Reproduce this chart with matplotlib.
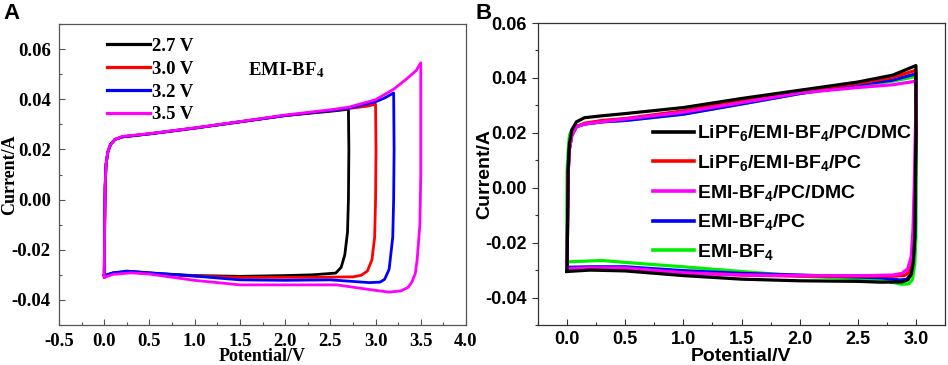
import matplotlib

matplotlib.use("Agg")
import matplotlib.pyplot as plt
from matplotlib.ticker import MultipleLocator
from matplotlib.lines import Line2D

plt.rcParams["mathtext.fontset"] = "custom"
plt.rcParams["mathtext.rm"] = "Liberation Sans:bold"
plt.rcParams["mathtext.bf"] = "Liberation Sans:bold"
plt.rcParams["mathtext.it"] = "Liberation Sans:bold"

# ---- Panel A: EMI-BF4 at different voltage windows (loop: forward then reverse) ----
a_labels = ["2.7 V", "3.0 V", "3.2 V", "3.5 V"]
a_colors = ["#000000", "#ff0000", "#0000ff", "#ff00ff"]

a_27_v = [0.0, 0.005, 0.01, 0.02, 0.04, 0.07, 0.12, 0.2, 0.5, 1.0, 1.5, 2.0, 2.5, 2.7,
          2.705, 2.70, 2.69, 2.66, 2.62, 2.56, 2.3, 2.0, 1.5, 1.0, 0.6, 0.3, 0.1, 0.0]
a_27_i = [-0.030, -0.010, 0.005, 0.014, 0.019, 0.022, 0.024, 0.025, 0.0262, 0.0285, 0.031, 0.0335, 0.0352, 0.0360,
          0.020, 0.0, -0.013, -0.022, -0.027, -0.0293, -0.0300, -0.0303, -0.0306, -0.0303, -0.0295, -0.0287, -0.0292, -0.0305]

a_30_v = [0.0, 0.005, 0.01, 0.02, 0.04, 0.07, 0.12, 0.2, 0.5, 1.0, 1.5, 2.0, 2.5, 2.7, 2.9, 3.0,
          3.005, 3.0, 2.99, 2.96, 2.91, 2.84, 2.75, 2.3, 2.0, 1.5, 1.0, 0.5, 0.3, 0.1, 0.0]
a_30_i = [-0.030, -0.010, 0.005, 0.014, 0.019, 0.022, 0.024, 0.025, 0.0262, 0.0285, 0.031, 0.0335, 0.0355, 0.0363, 0.0372, 0.0380,
          0.020, 0.0, -0.015, -0.024, -0.0285, -0.0302, -0.0308, -0.0310, -0.0310, -0.0310, -0.0305, -0.0295, -0.0290, -0.0293, -0.0305]

a_32_v = [0.0, 0.005, 0.01, 0.02, 0.04, 0.07, 0.12, 0.2, 0.5, 1.0, 1.5, 2.0, 2.5, 2.7, 3.0, 3.1, 3.2,
          3.205, 3.2, 3.19, 3.15, 3.1, 3.05, 2.93, 2.5, 2.0, 1.5, 1.0, 0.5, 0.25, 0.1, 0.0]
a_32_i = [-0.030, -0.010, 0.005, 0.014, 0.019, 0.022, 0.024, 0.025, 0.0262, 0.0285, 0.031, 0.0335, 0.0355, 0.0364, 0.0390, 0.0405, 0.0425,
          0.020, 0.0, -0.015, -0.0278, -0.0318, -0.0329, -0.0331, -0.0320, -0.0322, -0.0320, -0.0305, -0.0292, -0.0285, -0.0292, -0.0302]

a_35_v = [0.0, 0.005, 0.01, 0.02, 0.04, 0.07, 0.12, 0.2, 0.5, 1.0, 1.5, 2.0, 2.5, 2.7, 3.0, 3.2, 3.35, 3.45, 3.5,
          3.5, 3.49, 3.46, 3.44, 3.40, 3.36, 3.28, 3.15, 3.0, 2.57, 2.0, 1.5, 1.0, 0.5, 0.3, 0.1, 0.0]
a_35_i = [-0.031, -0.010, 0.005, 0.014, 0.019, 0.022, 0.024, 0.0252, 0.0263, 0.0286, 0.0311, 0.0337, 0.0358, 0.0368, 0.0398, 0.0440, 0.0483, 0.0515, 0.0545,
          0.010, -0.010, -0.024, -0.0294, -0.0330, -0.0350, -0.0364, -0.0369, -0.0362, -0.0340, -0.0340, -0.0340, -0.0322, -0.0297, -0.0292, -0.0298, -0.0310]

a_v = [a_27_v, a_30_v, a_32_v, a_35_v]
a_i = [a_27_i, a_30_i, a_32_i, a_35_i]

# ---- Panel B: different electrolytes, 0-3.0 V ----
b_labels = ["LiPF$_6$/EMI-BF$_4$/PC/DMC", "LiPF$_6$/EMI-BF$_4$/PC", "EMI-BF$_4$/PC/DMC",
            "EMI-BF$_4$/PC", "EMI-BF$_4$"]
b_colors = ["#000000", "#ff0000", "#ff00ff", "#0000ff", "#00ee00"]

b_lipf_dmc_v = [0.0, 0.005, 0.01, 0.02, 0.04, 0.08, 0.15, 0.3, 0.5, 1.0, 1.5, 2.0, 2.5, 2.8, 3.0,
                3.0, 2.995, 2.99, 2.978, 2.96, 2.93, 2.88, 2.7, 2.5, 2.0, 1.5, 1.0, 0.5, 0.2, 0.0]
b_lipf_dmc_i = [-0.0305, -0.010, 0.008, 0.016, 0.021, 0.024, 0.0255, 0.0262, 0.0270, 0.0292, 0.0325, 0.0355, 0.0385, 0.0410, 0.0445,
                0.020, 0.0, -0.018, -0.027, -0.0315, -0.0336, -0.0343, -0.0344, -0.0341, -0.0339, -0.0333, -0.0320, -0.0303, -0.0300, -0.0305]

b_lipf_pc_v = [0.0, 0.005, 0.01, 0.02, 0.04, 0.08, 0.15, 0.3, 0.5, 1.0, 1.5, 2.0, 2.5, 2.8, 3.0,
               3.0, 2.99, 2.98, 2.965, 2.94, 2.9, 2.8, 2.5, 2.0, 1.5, 1.0, 0.5, 0.2, 0.0]
b_lipf_pc_i = [-0.0295, -0.010, 0.006, 0.014, 0.019, 0.0222, 0.0235, 0.0245, 0.0252, 0.0280, 0.0318, 0.0352, 0.0380, 0.0402, 0.0428,
               0.020, 0.0, -0.018, -0.027, -0.0308, -0.0320, -0.0322, -0.0322, -0.0322, -0.0318, -0.0310, -0.0295, -0.0292, -0.0295]

b_emi_dmc_v = [0.0, 0.005, 0.01, 0.02, 0.04, 0.08, 0.15, 0.3, 0.5, 1.0, 1.5, 2.0, 2.5, 2.8, 3.0,
               3.0, 2.985, 2.975, 2.96, 2.93, 2.88, 2.8, 2.6, 2.0, 1.5, 1.0, 0.5, 0.2, 0.0]
b_emi_dmc_i = [-0.0295, -0.010, 0.006, 0.014, 0.019, 0.0222, 0.0232, 0.0240, 0.0250, 0.0275, 0.0310, 0.0345, 0.0365, 0.0375, 0.0388,
               0.030, 0.0, -0.015, -0.025, -0.0295, -0.0312, -0.0318, -0.0320, -0.0320, -0.0318, -0.0310, -0.0292, -0.0292, -0.0295]

b_emi_pc_v = [0.0, 0.005, 0.01, 0.02, 0.04, 0.08, 0.15, 0.3, 0.5, 1.0, 1.5, 2.0, 2.5, 2.8, 3.0,
              3.0, 2.995, 2.99, 2.975, 2.955, 2.92, 2.86, 2.7, 2.0, 1.5, 1.0, 0.5, 0.2, 0.0]
b_emi_pc_i = [-0.0290, -0.010, 0.006, 0.014, 0.019, 0.0222, 0.0232, 0.0240, 0.0245, 0.0268, 0.0305, 0.0343, 0.0375, 0.0392, 0.0415,
              0.020, 0.0, -0.018, -0.027, -0.0315, -0.0334, -0.0336, -0.0328, -0.0318, -0.0312, -0.0302, -0.0288, -0.0288, -0.0290]

b_emi_v = [-0.003, -0.002, 0.0, 0.01, 0.02, 0.04, 0.08, 0.15, 0.3, 0.5, 1.0, 1.5, 2.0, 2.5, 2.8, 3.0,
           3.005, 3.003, 3.0, 2.99, 2.97, 2.94, 2.88, 2.75, 2.6, 2.0, 1.5, 1.0, 0.5, 0.3, 0.0]
b_emi_i = [-0.0270, -0.010, 0.006, 0.014, 0.019, 0.021, 0.0225, 0.0232, 0.0240, 0.0245, 0.0268, 0.0305, 0.0343, 0.0372, 0.0388, 0.0405,
           0.020, 0.0, -0.018, -0.028, -0.0335, -0.0350, -0.0352, -0.0340, -0.0333, -0.0322, -0.0305, -0.0288, -0.0272, -0.0265, -0.0270]

b_v = [b_lipf_dmc_v, b_lipf_pc_v, b_emi_dmc_v, b_emi_pc_v, b_emi_v]
b_i = [b_lipf_dmc_i, b_lipf_pc_i, b_emi_dmc_i, b_emi_pc_i, b_emi_i]
b_draw_order = [4, 3, 1, 2, 0]

fig = plt.figure(figsize=(9.48, 3.65), dpi=100)

# ---------------- Panel A ----------------
serif_b = {"family": "Liberation Serif", "weight": "bold"}
axA = fig.add_axes([59 / 948, 40 / 365, 407 / 948, 301 / 365])
for v, i, c in zip(a_v, a_i, a_colors):
    axA.plot(v, i, color=c, lw=2.0, solid_joinstyle="round")
axA.set_xlim(-0.5, 4.0)
axA.set_ylim(-0.05, 0.07)
axA.xaxis.set_minor_locator(MultipleLocator(0.25))
axA.yaxis.set_minor_locator(MultipleLocator(0.01))
axA.set_xticks([-0.5, 0.0, 0.5, 1.0, 1.5, 2.0, 2.5, 3.0, 3.5, 4.0])
axA.set_xticklabels([f"{t:.1f}" for t in axA.get_xticks()])
axA.set_yticks([-0.04, -0.02, 0.0, 0.02, 0.04, 0.06])
axA.set_yticklabels([f"{t:.2f}" for t in axA.get_yticks()])
axA.tick_params(which="both", direction="in", color="#555555", width=0.8)
axA.tick_params(which="major", length=4, pad=6)
axA.tick_params(which="minor", length=2.5)
for lab in axA.get_xticklabels() + axA.get_yticklabels():
    lab.set_fontfamily("Liberation Serif")
    lab.set_fontweight("bold")
    lab.set_fontsize(13.5)
for sp in axA.spines.values():
    sp.set_color("#555555")
    sp.set_linewidth(0.9)
axA.set_xlabel("Potential/V", fontsize=13, **serif_b)
axA.set_ylabel("Current/A", fontsize=13, **serif_b)
axA.xaxis.set_label_coords(0.5, -0.078)
axA.yaxis.set_label_coords(-0.1, 0.5)

handlesA = [Line2D([], [], color=c, lw=2.3) for c in a_colors]
axA.legend(handlesA, a_labels, loc="upper left", bbox_to_anchor=(0.095, 0.985),
           frameon=False, handlelength=2.3, handletextpad=0.1, labelspacing=0.3,
           borderpad=0.0, prop={"family": "Liberation Serif", "weight": "bold", "size": 13.5})
axA.text(1.59, 0.0516, r"EMI-BF$_\mathbf{4}$", fontsize=13.5, va="center", ha="left",
         math_fontfamily="stix", **serif_b)

fig.text(3 / 948, 1 - 3 / 365, "A", fontsize=16, fontweight="bold", family="Liberation Sans",
         ha="left", va="top")

# ---------------- Panel B ----------------
axB = fig.add_axes([538 / 948, 40 / 365, 407 / 948, 302 / 365])
for k in b_draw_order:
    axB.plot(b_v[k], b_i[k], color=b_colors[k], lw=2.3, solid_joinstyle="round")
axB.set_xlim(-0.25, 3.25)
axB.set_ylim(-0.05, 0.06)
axB.xaxis.set_minor_locator(MultipleLocator(0.25))
axB.set_xticks([0.0, 0.5, 1.0, 1.5, 2.0, 2.5, 3.0])
axB.set_xticklabels([f"{t:.1f}" for t in axB.get_xticks()])
axB.set_yticks([-0.04, -0.02, 0.0, 0.02, 0.04, 0.06])
axB.set_yticklabels([f"{t:.2f}" for t in axB.get_yticks()])
axB.yaxis.set_minor_locator(MultipleLocator(0.01))
axB.tick_params(axis="x", which="both", direction="in")
axB.tick_params(axis="y", which="both", direction="out")
axB.tick_params(which="major", length=4, width=0.8, pad=4, color="#333333")
axB.tick_params(which="minor", length=2.5, width=0.8, color="#333333")
for lab in axB.get_xticklabels() + axB.get_yticklabels():
    lab.set_fontfamily("Liberation Sans")
    lab.set_fontweight("bold")
    lab.set_fontsize(13)
for sp in axB.spines.values():
    sp.set_color("#333333")
    sp.set_linewidth(0.9)
axB.set_xlabel("Potential/V", fontsize=14, fontweight="bold", family="Liberation Sans")
axB.set_ylabel("Current/A", fontsize=14, fontweight="bold", family="Liberation Sans")
axB.xaxis.set_label_coords(0.5, -0.076)
axB.yaxis.set_label_coords(-0.11, 0.5)

handlesB = [Line2D([], [], color=c, lw=2.6) for c in b_colors]
axB.legend(handlesB, b_labels, loc="upper left", bbox_to_anchor=(0.258, 0.70),
           frameon=False, handlelength=2.1, handletextpad=0.2, labelspacing=0.5,
           borderpad=0.0, prop={"family": "Liberation Sans", "weight": "bold", "size": 14})

fig.text(475 / 948, 1 - 3 / 365, "B", fontsize=16, fontweight="bold", family="Liberation Sans",
         ha="left", va="top")

fig.savefig("out.png", dpi=100)
